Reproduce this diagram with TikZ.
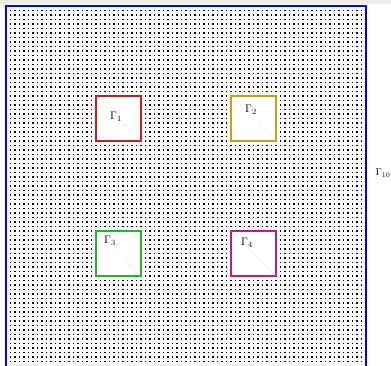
\documentclass[tikz,border=0pt]{standalone}
\begin{document}
\begin{tikzpicture}[x=1pt,y=1pt,
  gbox/.style={draw, line width=1.5pt, fill=white, minimum size=45pt, inner sep=0pt, outer sep=0pt},
  glabel/.style={font=\fontsize{11}{13}\selectfont, inner sep=0pt},
  diag/.style={gray!50, dotted, line width=0.5pt}]
\useasboundingbox (-6,1) rectangle (385,366);
\fill[gray!15] (-6,362) rectangle (385,366);
% dot grid
\foreach \k in {1,...,79}{
  \draw[black, line width=1.4pt, dash pattern=on 1.4pt off 3.1pt]
    (3.8,360-4.5*\k) -- (357,360-4.5*\k);
}
% outer boundary
\draw[blue, line width=1.5pt] (0,0) -- (0,360) -- (360,360) -- (360,0);
\node[font=\fontsize{10}{12}\selectfont, inner sep=0pt, anchor=east] (g10) at (384.5,193) {$\Gamma_{10}$};
% inner boxes
\definecolor{c1}{RGB}{200,30,30}
\definecolor{c2}{RGB}{200,160,20}
\definecolor{c3}{RGB}{40,180,40}
\definecolor{c4}{RGB}{190,30,120}
\node[gbox, draw=c1] (b1) at (112.5,247.5) {};
\node[gbox, draw=c2] (b2) at (247.5,247.5) {};
\node[gbox, draw=c3] (b3) at (112.5,112.5) {};
\node[gbox, draw=c4] (b4) at (247.5,112.5) {};
\foreach \b in {b1,b2,b3,b4}{
  \draw[diag] (\b.north west) -- (\b.south east);
}
\node[glabel] (l1) at (110,249) {$\Gamma_1$};
\node[glabel] (l2) at (245,256) {$\Gamma_2$};
\node[glabel] (l3) at (104,125) {$\Gamma_3$};
\node[glabel] (l4) at (241,123) {$\Gamma_4$};
\end{tikzpicture}
\end{document}
